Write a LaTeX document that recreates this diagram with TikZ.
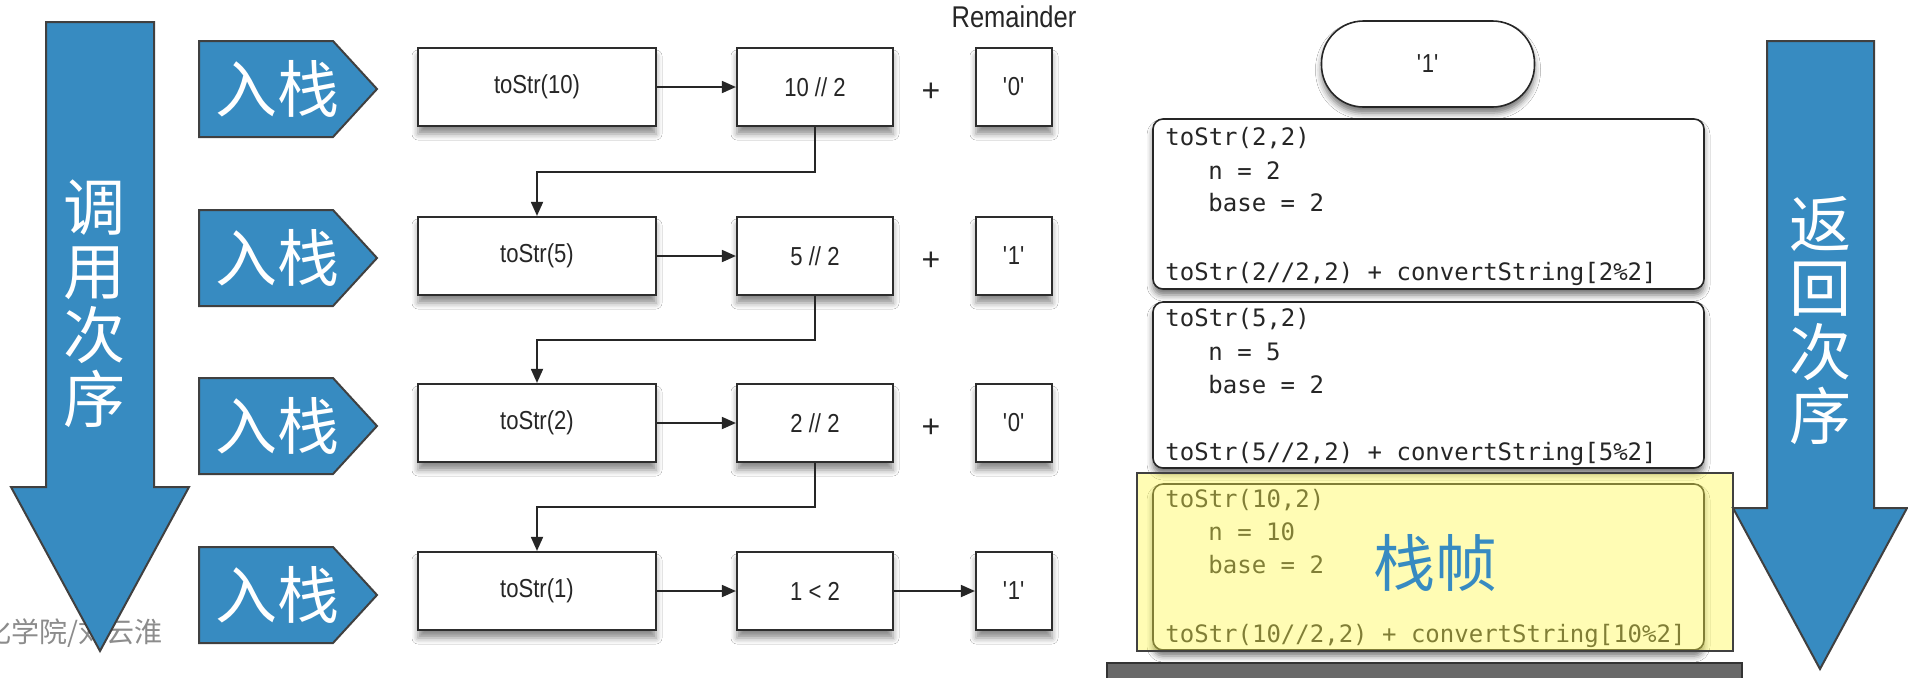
\documentclass[tikz,border=0pt]{standalone}
\usepackage{fontspec}
\setsansfont{Liberation Sans}
\newfontfamily\narrowsans[FakeStretch=0.85]{Liberation Sans}
\newfontfamily\cjk{Noto Sans CJK SC}
\newfontfamily\monofnt{DejaVu Sans Mono}
\usetikzlibrary{arrows.meta,shadows.blur,calc}
\definecolor{arrowblue}{RGB}{55,139,193}
\definecolor{edgegray}{RGB}{64,64,64}
\definecolor{boxedge}{RGB}{45,45,45}
\definecolor{hlyellow}{RGB}{255,250,77}
\definecolor{wmgray}{RGB}{140,140,140}
\definecolor{bargray}{RGB}{105,105,105}
\begin{document}
\begin{tikzpicture}[x=0.5pt,y=-0.5pt,
  bigarrow/.style={fill=arrowblue,draw=edgegray,line width=1pt,line join=miter},
  arrowtxt/.style={text=white,font=\cjk\fontsize{31pt}{32pt}\selectfont,align=center,inner sep=0pt},
  pentxt/.style={text=white,font=\cjk\fontsize{31pt}{32pt}\selectfont,inner sep=0pt},
  flowbox/.style={draw=boxedge,line width=1.1pt,fill=white,minimum height=39pt,inner sep=0pt,
    blur shadow={shadow xshift=0pt,shadow yshift=-4pt,shadow blur radius=3pt,shadow opacity=45},
    font=\narrowsans\fontsize{13pt}{15pt}\selectfont,text=black!85},
  boxa/.style={flowbox,minimum width=119pt},
  boxb/.style={flowbox,minimum width=78pt},
  boxc/.style={flowbox,minimum width=38pt},
  flowarrow/.style={draw=black!85,line width=0.9pt,-{Triangle[length=7pt,width=6pt]}},
  plus/.style={font=\sffamily\fontsize{16pt}{16pt}\selectfont,text=black!85,inner sep=0pt},
  framebox/.style={draw=black!85,line width=0.8pt,fill=white,rounded corners=5pt,minimum width=275.5pt,minimum height=83pt,inner sep=0pt,
    blur shadow={shadow xshift=0pt,shadow yshift=-3pt,shadow blur radius=3pt,shadow opacity=55}},
  code/.style={font=\monofnt\fontsize{12pt}{14pt}\selectfont,text=black!85,inner sep=0pt,anchor=base west},
  pill/.style={draw=black!85,line width=0.8pt,fill=white,rounded corners=21pt,minimum width=106.5pt,minimum height=43pt,inner sep=0pt,
    blur shadow={shadow xshift=0pt,shadow yshift=-3pt,shadow blur radius=3pt,shadow opacity=55},
    font=\narrowsans\fontsize{13pt}{15pt}\selectfont,text=black!85},
  hlbox/.style={draw=edgegray,line width=0.6pt,fill=hlyellow,fill opacity=0.42,minimum width=298pt,minimum height=89pt,inner sep=0pt},
  wmtxt/.style={text=wmgray,font=\cjk\fontsize{14pt}{14pt}\selectfont,inner sep=0pt,anchor=west}
]
\path[use as bounding box,fill=white] (0,0) rectangle (1908,677);

% watermark (behind the arrow)
\node[wmtxt] (wm) at (-17,633) {化学院/刘云淮};

% left big arrow
\draw[bigarrow] (46,22) -- (154,22) -- (154,487) -- (189,487) -- (100,651) -- (11,487) -- (46,487) -- cycle;
\node[arrowtxt] (calltxt) at (94,304) {调\\用\\次\\序};

% pentagons
\foreach \t/\n in {41/p1,210/p2,378/p3,547/p4}{
  \draw[bigarrow] (199,\t) -- (333,\t) -- (377,\t+48) -- (333,\t+96) -- (199,\t+96) -- cycle;
  \node[pentxt] (\n) at (277,\t+48) {入栈};
}

% middle flow
\node[font=\narrowsans\fontsize{15pt}{17pt}\selectfont,text=black!85,inner sep=0pt] (rem) at (1014,17) {Remainder};

\node[boxa] (A1) at (537,87) {toStr(10)};
\node[boxb] (B1) at (815,87) {10 // 2};
\node[plus] (s1) at (931,92) {+};
\node[boxc] (C1) at (1014,87) {\textquotesingle 0\textquotesingle};

\node[boxa] (A2) at (537,256) {toStr(5)};
\node[boxb] (B2) at (815,256) {5 // 2};
\node[plus] (s2) at (931,261) {+};
\node[boxc] (C2) at (1014,256) {\textquotesingle 1\textquotesingle};

\node[boxa] (A3) at (537,423) {toStr(2)};
\node[boxb] (B3) at (815,423) {2 // 2};
\node[plus] (s3) at (931,428) {+};
\node[boxc] (C3) at (1014,423) {\textquotesingle 0\textquotesingle};

\node[boxa] (A4) at (537,591) {toStr(1)};
\node[boxb] (B4) at (815,591) {1 < 2};
\node[boxc] (C4) at (1014,591) {\textquotesingle 1\textquotesingle};

\draw[flowarrow] (A1) -- (B1);
\draw[flowarrow] (A2) -- (B2);
\draw[flowarrow] (A3) -- (B3);
\draw[flowarrow] (A4) -- (B4);
\draw[flowarrow] (B4) -- (C4);
\draw[flowarrow] (B1.south) -- ++(0,45) -| (A2.north);
\draw[flowarrow] (B2.south) -- ++(0,44) -| (A3.north);
\draw[flowarrow] (B3.south) -- ++(0,44) -| (A4.north);

% right: stack
\node[pill] (res) at (1428,64) {\textquotesingle 1\textquotesingle};

\node[framebox,minimum height=85pt] (F1) at (1428.5,204) {};
\node[code] (f1a) at (1165,145) {toStr(2,2)};
\node[code] (f1b) at (1208,179) {n = 2};
\node[code] (f1c) at (1208,211) {base = 2};
\node[code] (f1d) at (1165,280) {toStr(2//2,2) + convertString[2\%2]};

\node[framebox] (F2) at (1428.5,385) {};
\node[code] (f2a) at (1165,326) {toStr(5,2)};
\node[code] (f2b) at (1208,360) {n = 5};
\node[code] (f2c) at (1208,393) {base = 2};
\node[code] (f2d) at (1165,460) {toStr(5//2,2) + convertString[5\%2]};

\node[framebox] (F3) at (1428.5,567) {};
\node[code] (f3a) at (1165,507) {toStr(10,2)};
\node[code] (f3b) at (1208,540) {n = 10};
\node[code] (f3c) at (1208,573) {base = 2};
\node[code] (f3d) at (1165,642) {toStr(10//2,2) + convertString[10\%2]};

\node[hlbox] (hl) at (1435,562) {};
\node[pentxt,text=arrowblue] (frame) at (1435,563) {栈帧};

% base bar
\draw[fill=bargray,draw=black!80,line width=1pt] (1107,663) rectangle (1742,700);

% right big arrow
\draw[bigarrow] (1767,41) -- (1874,41) -- (1874,508) -- (1907,508) -- (1820,669) -- (1733,508) -- (1767,508) -- cycle;
\node[arrowtxt] (rettxt) at (1820,321) {返\\回\\次\\序};
\end{tikzpicture}
\end{document}
